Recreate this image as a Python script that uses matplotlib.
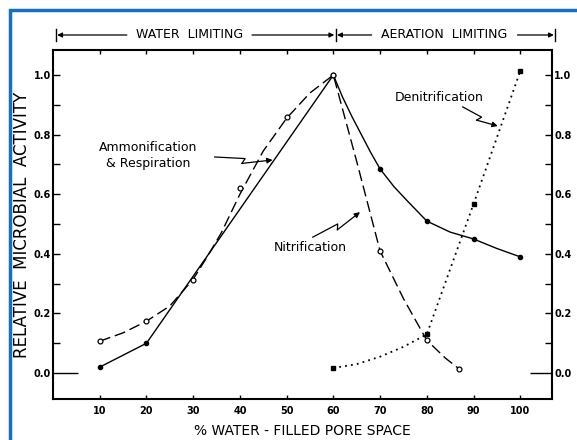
import numpy as np
import matplotlib
matplotlib.use("Agg")
import matplotlib.pyplot as plt
from matplotlib.patches import Rectangle
from matplotlib.ticker import MultipleLocator

# Ammonification & Respiration (solid line, filled dots)
amm_pts_x = [10, 20, 60, 70, 80, 90, 100]
amm_pts_y = [0.02, 0.10, 1.00, 0.685, 0.51, 0.45, 0.39]
amm_line_x = [10, 20, 60, 62, 64, 66, 68, 70, 73, 76, 80, 85, 90, 95, 100]
amm_line_y = [0.02, 0.10, 1.00, 0.925, 0.86, 0.80, 0.74, 0.685, 0.625, 0.575, 0.51,
              0.473, 0.45, 0.418, 0.39]

# Nitrification (dashed line, open circles)
nit_pts_x = [10, 20, 30, 40, 50, 60, 70, 80, 87]
nit_pts_y = [0.107, 0.174, 0.312, 0.62, 0.86, 1.00, 0.41, 0.11, 0.013]
nit_line_x = [10, 15, 20, 25, 30, 33, 36, 40, 45, 50, 55, 60, 65, 70, 75, 80, 84, 87]
nit_line_y = [0.107, 0.135, 0.174, 0.225, 0.315, 0.39, 0.47, 0.60, 0.745, 0.855, 0.94, 1.00,
              0.71, 0.41, 0.25, 0.11, 0.05, 0.013]

# Denitrification (dotted line, squares)
den_pts_x = [60, 80, 90, 100]
den_pts_y = [0.017, 0.13, 0.567, 1.013]
den_line_x = [60, 65, 70, 75, 80, 90, 100]
den_line_y = [0.017, 0.03, 0.055, 0.088, 0.13, 0.567, 1.013]

x_ticks = [10, 20, 30, 40, 50, 60, 70, 80, 90, 100]
y_ticks = [0.0, 0.2, 0.4, 0.6, 0.8, 1.0]

plt.rcParams['font.family'] = ['DejaVu Sans']

fig = plt.figure(figsize=(5.77, 4.40), dpi=100)
fig.patch.set_facecolor('white')

# blue frame of the scan
fig.patches.append(Rectangle((10 / 577, -0.1), 1.2, 1.1 - 10 / 440, transform=fig.transFigure,
                             fill=False, edgecolor='#1670c0', linewidth=2.5))

ax = fig.add_axes([53 / 577, 1 - 399 / 440, (552 - 53) / 577, (399 - 50) / 440])
ax.set_xlim(0, 106.8)
ax.set_ylim(-0.087, 1.084)

# curves
ax.plot(amm_line_x, amm_line_y, color='k', lw=1.0)
ax.plot(amm_pts_x, amm_pts_y, 'o', color='k', ms=3)

ax.plot(nit_line_x, nit_line_y, color='k', lw=1.0, linestyle=(0, (8, 3.5)))
ax.plot(nit_pts_x, nit_pts_y, 'o', mfc='white', mec='k', mew=0.9, ms=3.5)

ax.plot(den_line_x, den_line_y, color='k', lw=1.3, linestyle=(0, (1, 2.3)))
ax.plot(den_pts_x, den_pts_y, 's', color='k', ms=2.5)

# axes styling
for s in ax.spines.values():
    s.set_linewidth(1.5)
ax.set_xticks(x_ticks)
ax.set_xticklabels([str(v) for v in x_ticks])
ax.set_yticks(y_ticks)
ax.set_yticklabels(['%.1f' % v for v in y_ticks])
ax.yaxis.set_minor_locator(MultipleLocator(0.1))
ax.tick_params(axis='x', direction='in', top=True, bottom=True, length=3, width=1,
               labelsize=7, pad=5)
ax.tick_params(axis='y', which='both', direction='in', left=True, right=True,
               labelleft=True, labelright=True, length=5, width=1, labelsize=7, pad=1.5)
for lab in ax.get_xticklabels() + ax.get_yticklabels():
    lab.set_fontweight('bold')
zero = ax.yaxis.get_major_ticks()[0]
zero.tick1line.set_markersize(18)
zero.tick2line.set_markersize(16)

ax.set_xlabel('% WATER - FILLED PORE SPACE', fontsize=10, labelpad=6)
ax.set_ylabel('RELATIVE  MICROBIAL  ACTIVITY', fontsize=12)
ax.yaxis.set_label_coords(-0.044, 0.5)

# header brackets
hy = 1.043
htrans = ax.get_xaxis_transform()
for bx in [0.6, 60.5, 107.5]:
    ax.plot([bx, bx], [1.027, 1.06], color='k', lw=1.0, transform=htrans, clip_on=False)
ax.text(29.3, hy, 'WATER  LIMITING', transform=htrans, ha='center', va='center', fontsize=9)
ax.text(83.7, hy, 'AERATION  LIMITING', transform=htrans, ha='center', va='center', fontsize=9)
arrow_kw = dict(arrowstyle='-|>', color='k', lw=0.9, mutation_scale=7, shrinkA=0, shrinkB=0)
for x0, x1 in [(15.8, 0.9), (42.6, 60.2), (68.2, 60.8), (99.4, 107.2)]:
    ax.annotate('', xy=(x1, hy), xytext=(x0, hy), xycoords=htrans, textcoords=htrans,
                arrowprops=arrow_kw, annotation_clip=False)


def bolt_arrow(start, tip, jag=5.0):
    p0 = ax.transData.transform(start)
    p1 = ax.transData.transform(tip)
    d = p1 - p0
    u = d / np.hypot(*d)
    n = np.array([u[1], -u[0]])
    m = p0 + d * 0.5
    a = m + u * 1.5
    b = m - u * 1.5 + n * jag
    pts = ax.transData.inverted().transform(np.array([p0, a, b]))
    ax.plot(pts[:, 0], pts[:, 1], color='k', lw=0.9)
    ax.annotate('', xy=tip, xytext=tuple(pts[2]),
                arrowprops=dict(arrowstyle='-|>', color='k', lw=0.9, mutation_scale=8,
                                shrinkA=0, shrinkB=0))


ax.text(20.3, 0.73, 'Ammonification\n& Respiration', ha='center', va='center',
        fontsize=9, linespacing=1.3)
bolt_arrow((34.6, 0.725), (47.0, 0.715))

ax.text(55.0, 0.42, 'Nitrification', ha='center', va='center', fontsize=9)
bolt_arrow((55.6, 0.456), (65.7, 0.54))

ax.text(82.6, 0.926, 'Denitrification', ha='center', va='center', fontsize=9)
bolt_arrow((87.7, 0.893), (95.2, 0.829))

fig.savefig('out.png', dpi=100)
